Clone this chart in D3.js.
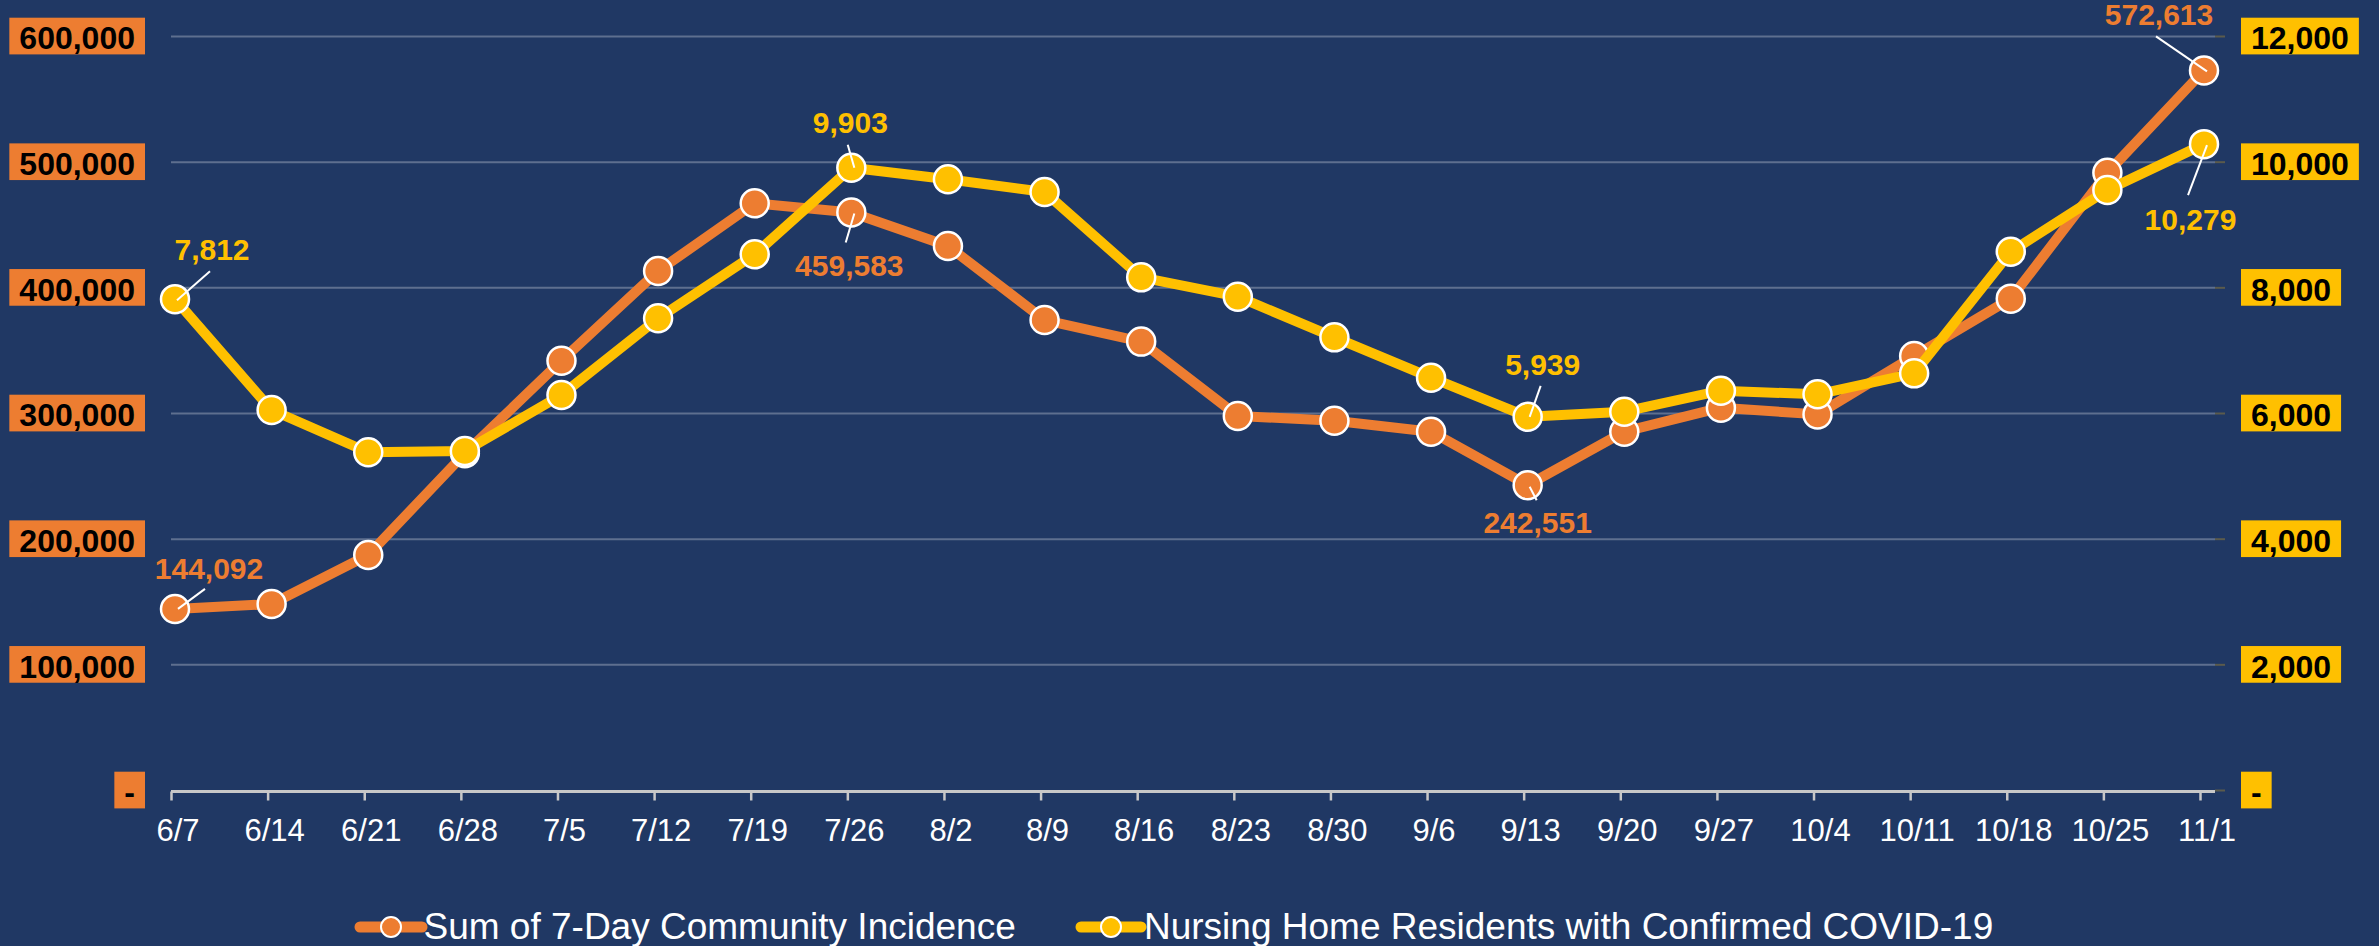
<!DOCTYPE html>
<html>
<head>
<meta charset="utf-8">
<script src="https://cdn.jsdelivr.net/npm/d3@7"></script>
<style>
  html, body { margin: 0; padding: 0; background: #203864; }
  svg { display: block; font-family: "Liberation Sans", Arial, sans-serif; }
</style>
</head>
<body>
<svg id="chart" width="2379" height="946"></svg>
<script>
// ---- Data ----
const dates = ["6/7","6/14","6/21","6/28","7/5","7/12","7/19","7/26","8/2","8/9","8/16","8/23","8/30","9/6","9/13","9/20","9/27","10/4","10/11","10/18","10/25","11/1"];
const incidence = [144092,148000,187000,267900,341600,413000,466900,459583,432900,374000,356800,297600,293900,285100,242551,285100,304200,298900,345400,391000,491200,572613];
const nursing = [7812,6048,5375,5395,6286,7507,8526,9903,9719,9517,8159,7851,7204,6562,5939,6021,6355,6297,6631,8567,9549,10279];
const leftTicks = [0,100000,200000,300000,400000,500000,600000];
const rightTicks = [0,2000,4000,6000,8000,10000,12000];
const seriesNames = ["Sum of 7-Day Community Incidence","Nursing Home Residents with Confirmed COVID-19"];
const labeledIdx = [0,7,14,21];

// ---- Styling / layout ----
const W = 2379, H = 946;
const orange = "#ED7D31", yellow = "#FFC000", bg = "#203864";
const svg = d3.select("#chart");
svg.append("rect").attr("width", W).attr("height", H).attr("fill", bg);

const x = d3.scalePoint().domain(dates).range([175, 2204]);
const yL = d3.scaleLinear().domain([0, 600000]).range([790, 36]);
const yR = d3.scaleLinear().domain([0, 12000]).range([790, 36]);
const fmt = v => v === 0 ? "-" : d3.format(",")(v);

// gridlines
svg.append("g")
  .attr("transform", "translate(171,0)")
  .call(d3.axisLeft(yL).tickValues(leftTicks.filter(d => d > 0)).tickSize(-2044).tickFormat(""))
  .call(g => g.select(".domain").remove())
  .call(g => g.selectAll("line").attr("stroke", "rgba(255,255,255,0.28)").attr("stroke-width", 2));

// right axis small ticks
svg.append("g")
  .attr("transform", "translate(2215,0)")
  .call(d3.axisRight(yR).tickValues(rightTicks).tickSize(10).tickFormat(""))
  .call(g => g.select(".domain").remove())
  .call(g => g.selectAll("line").attr("stroke", "#5b5b4c").attr("stroke-width", 2));

// x axis
const xAxisG = svg.append("g")
  .attr("transform", "translate(-4,791.5)")
  .call(d3.axisBottom(x).tickSize(9).tickSizeOuter(0).tickFormat(""));
xAxisG.select(".domain").attr("d", "M175,0H2219").attr("stroke", "#c8c8c8").attr("stroke-width", 3);
xAxisG.selectAll(".tick line").attr("stroke", "#c8c8c8").attr("stroke-width", 2.5);

// x tick labels
svg.append("g").selectAll("text").data(dates).join("text")
  .attr("x", d => x(d) + 3).attr("y", 841)
  .attr("text-anchor", "middle")
  .attr("fill", "#ffffff").attr("font-size", 31)
  .text(d => d);

// axis label boxes
function boxLabels(ticks, scale, color, anchorX, alignRight) {
  const g = svg.append("g");
  ticks.forEach(t => {
    const gy = scale(t);
    const txt = g.append("text")
      .attr("y", gy + 13.3)
      .attr("font-size", 32).attr("font-weight", "bold").attr("fill", "#000")
      .text(fmt(t));
    const w = txt.node().getComputedTextLength();
    const padL = 10, padR = 10;
    let bx = alignRight ? anchorX - w - padL - padR : anchorX;
    g.insert("rect", "text")
      .attr("x", bx).attr("y", gy - 18.3)
      .attr("width", w + padL + padR).attr("height", 36.7)
      .attr("fill", color);
    txt.attr("x", bx + padL);
  });
}
boxLabels(leftTicks, yL, orange, 145, true);
boxLabels(rightTicks, yR, yellow, 2241, false);

// series
function drawSeries(values, scale, color) {
  const line = d3.line().x((d, i) => x(dates[i])).y(d => scale(d));
  svg.append("path").datum(values)
    .attr("d", line).attr("fill", "none")
    .attr("stroke", color).attr("stroke-width", 10).attr("stroke-linejoin", "round");
  svg.append("g").selectAll("circle").data(values).join("circle")
    .attr("cx", (d, i) => x(dates[i])).attr("cy", d => scale(d))
    .attr("r", 14).attr("fill", color)
    .attr("stroke", "#ffffff").attr("stroke-width", 2.5);
}
drawSeries(incidence, yL, orange);
drawSeries(nursing, yR, yellow);

// data labels (offsets relative to point: label center dx, baseline dy, leader from/to)
const orangeLabelPos = [
  {dx: 34, dy: -30, l: [3, 0, 30, -20]},
  {dx: -2, dy: 64, l: [3, 1, -5.6, 30]},
  {dx: 10, dy: 48, l: [2, 1.5, 9, 15]},
  {dx: -45, dy: -45, l: [3, 1, -48, -34]}
];
const yellowLabelPos = [
  {dx: 37, dy: -39, l: [2, 1, 35, -28]},
  {dx: -1, dy: -34.5, l: [3, 0, -3.6, -23]},
  {dx: 15, dy: -42, l: [2, 0, 13, -31]},
  {dx: -13.5, dy: 86, l: [3, 1, -16, 51]}
];
function drawLabels(values, scale, color, pos) {
  const g = svg.append("g");
  labeledIdx.forEach((idx, k) => {
    const px = x(dates[idx]), py = scale(values[idx]);
    const p = pos[k];
    g.append("line")
      .attr("x1", px + p.l[0]).attr("y1", py + p.l[1])
      .attr("x2", px + p.l[2]).attr("y2", py + p.l[3])
      .attr("stroke", "#ffffff").attr("stroke-width", 2);
    g.append("text")
      .attr("x", px + p.dx).attr("y", py + p.dy)
      .attr("text-anchor", "middle")
      .attr("font-size", 30).attr("font-weight", "bold").attr("fill", color)
      .text(d3.format(",")(values[idx]));
  });
}
drawLabels(incidence, yL, orange, orangeLabelPos);
drawLabels(nursing, yR, yellow, yellowLabelPos);

// legend
const legendItems = [
  {name: seriesNames[0], color: orange, x0: 360, x1: 422, cx: 391, tx: 423.5},
  {name: seriesNames[1], color: yellow, x0: 1081, x1: 1141, cx: 1111, tx: 1144}
];
const lg = svg.append("g");
legendItems.forEach(it => {
  lg.append("line").attr("x1", it.x0).attr("x2", it.x1).attr("y1", 927).attr("y2", 927)
    .attr("stroke", it.color).attr("stroke-width", 11).attr("stroke-linecap", "round");
  lg.append("circle").attr("cx", it.cx).attr("cy", 927).attr("r", 10)
    .attr("fill", it.color).attr("stroke", "#fff").attr("stroke-width", 2);
  lg.append("text").attr("x", it.tx).attr("y", 939)
    .attr("font-size", 37).attr("fill", "#fff").text(it.name);
});
</script>
</body>
</html>
